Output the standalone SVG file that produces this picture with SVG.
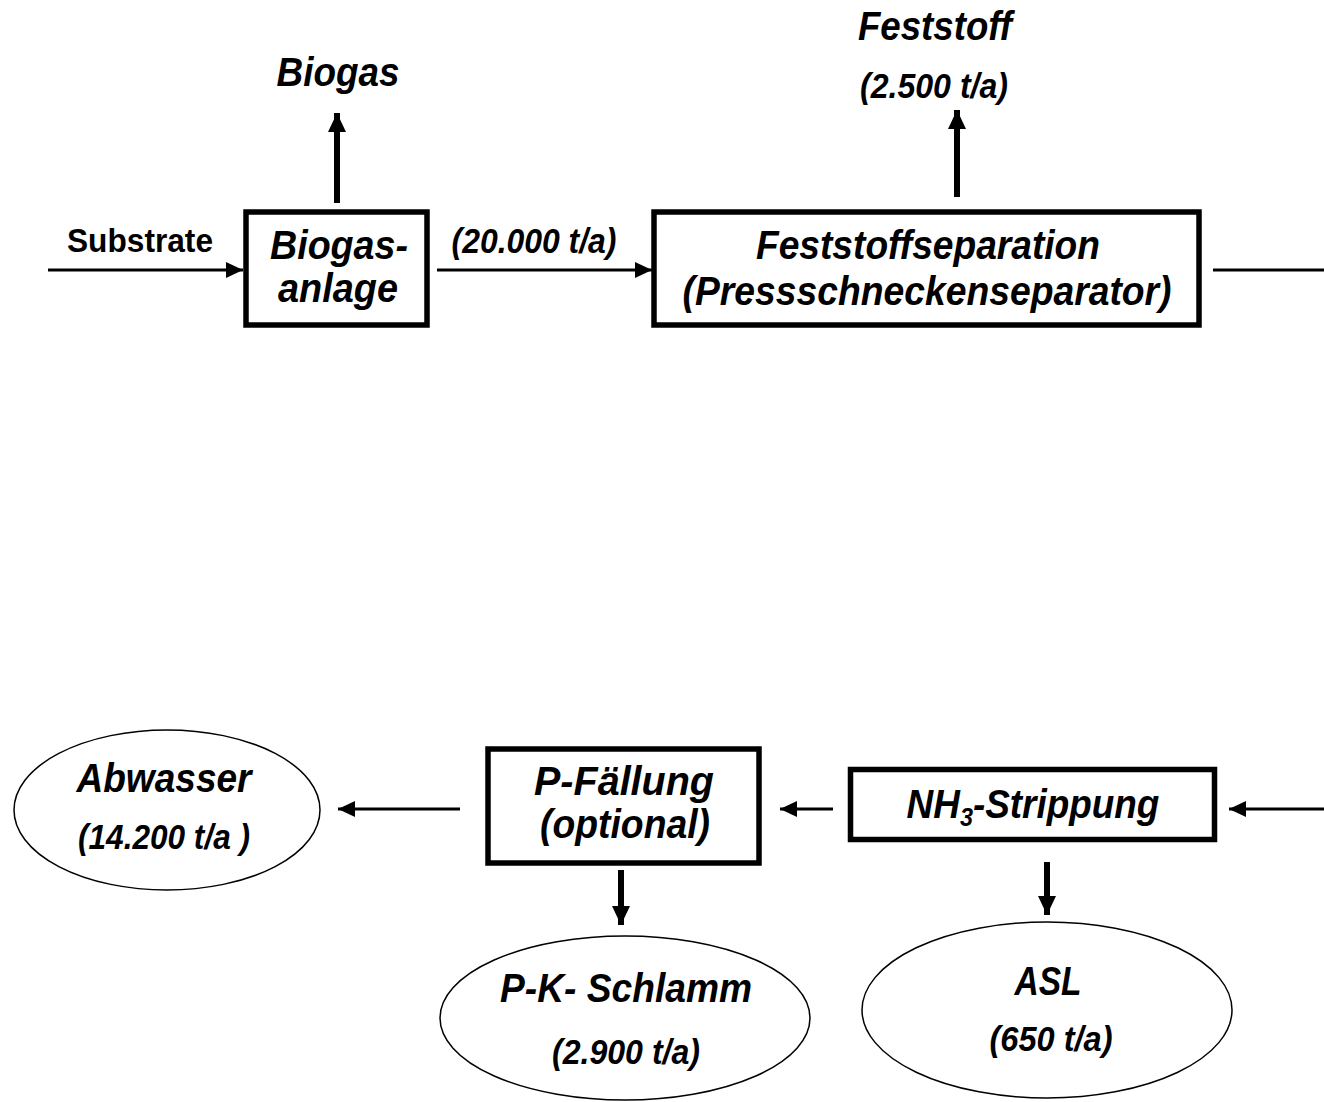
<svg xmlns="http://www.w3.org/2000/svg" width="1324" height="1102" viewBox="0 0 1324 1102">
<defs>
<style>
text{font-family:"Liberation Sans",Arial,sans-serif;font-weight:bold;font-style:italic;fill:#000;text-anchor:middle}
.big{font-size:41px}
.num{font-size:35px}
.sub{font-size:33px;font-style:normal}
.box{fill:#fff;stroke:#000;stroke-width:5.5}
.ell{fill:#fff;stroke:#000;stroke-width:1.5}
.thin{stroke:#000;stroke-width:3;fill:none}
.thick{stroke:#000;stroke-width:6;fill:none}
</style>
<marker id="ht" markerUnits="userSpaceOnUse" markerWidth="17" markerHeight="16" refX="17" refY="8" orient="auto"><path d="M0,0 L17,8 L0,16 z" fill="#000"/></marker>
<marker id="hT" markerUnits="userSpaceOnUse" markerWidth="19" markerHeight="18" refX="19" refY="9" orient="auto"><path d="M0,0 L19,9 L0,18 z" fill="#000"/></marker>
</defs>
<rect width="1324" height="1102" fill="#fff"/>
<g id="connectors">
<line class="thin" x1="48" y1="270" x2="243" y2="270" marker-end="url(#ht)"/>
<line class="thin" x1="437" y1="270" x2="652" y2="270" marker-end="url(#ht)"/>
<line class="thick" x1="337" y1="203" x2="337" y2="113" marker-end="url(#hT)"/>
<line class="thick" x1="957" y1="197" x2="957" y2="110" marker-end="url(#hT)"/>
<line class="thin" x1="1213" y1="270" x2="1324" y2="270"/>
<line class="thin" x1="1324" y1="809" x2="1229" y2="809" marker-end="url(#ht)"/>
<line class="thin" x1="833" y1="809" x2="780" y2="809" marker-end="url(#ht)"/>
<line class="thin" x1="460" y1="809" x2="338" y2="809" marker-end="url(#ht)"/>
<line class="thick" x1="621" y1="870" x2="621" y2="925" marker-end="url(#hT)"/>
<line class="thick" x1="1047" y1="862" x2="1047" y2="915" marker-end="url(#hT)"/>
<text class="sub" x="140" y="252" textLength="146" lengthAdjust="spacingAndGlyphs">Substrate</text>
<text class="num" x="534" y="253" textLength="165" lengthAdjust="spacingAndGlyphs">(20.000 t/a)</text>
</g>
<g id="biogas-out"><text class="big" x="338" y="86" textLength="123" lengthAdjust="spacingAndGlyphs">Biogas</text></g>
<g id="feststoff-out"><text class="big" x="935" y="40" textLength="154" lengthAdjust="spacingAndGlyphs">Feststoff</text><text class="num" x="934" y="98" textLength="148" lengthAdjust="spacingAndGlyphs">(2.500 t/a)</text></g>
<g id="biogasanlage">
<rect class="box" x="246" y="212" width="181" height="113"/>
<text class="big" x="339" y="259" textLength="138" lengthAdjust="spacingAndGlyphs">Biogas-</text>
<text class="big" x="338" y="302" textLength="120" lengthAdjust="spacingAndGlyphs">anlage</text>
</g>
<g id="feststoffseparation">
<rect class="box" x="654" y="212" width="545" height="113"/>
<text class="big" x="928" y="259" textLength="344" lengthAdjust="spacingAndGlyphs">Feststoffseparation</text>
<text class="big" x="927" y="305" textLength="489" lengthAdjust="spacingAndGlyphs">(Pressschneckenseparator)</text>
</g>
<g id="pfaellung">
<rect class="box" x="488" y="749" width="271" height="114"/>
<text class="big" x="624" y="795" textLength="180" lengthAdjust="spacingAndGlyphs">P-Fällung</text>
<text class="big" x="625" y="838" textLength="170" lengthAdjust="spacingAndGlyphs">(optional)</text>
</g>
<g id="nh3">
<rect class="box" x="850.5" y="769.5" width="364" height="70"/>
<text class="big" transform="translate(1033,818) scale(0.9,1)" x="0" y="0">NH<tspan font-size="26" dy="8">3</tspan><tspan dy="-8">-Strippung</tspan></text>
</g>
<g id="abwasser">
<ellipse class="ell" cx="167" cy="810" rx="153" ry="80"/>
<text class="big" x="164" y="792" textLength="175" lengthAdjust="spacingAndGlyphs">Abwasser</text>
<text class="num" x="164" y="849" textLength="172" lengthAdjust="spacingAndGlyphs">(14.200 t/a )</text>
</g>
<g id="pk-schlamm">
<ellipse class="ell" cx="625" cy="1018" rx="185" ry="82"/>
<text class="big" x="626" y="1002" textLength="252" lengthAdjust="spacingAndGlyphs">P-K- Schlamm</text>
<text class="num" x="626" y="1064" textLength="148" lengthAdjust="spacingAndGlyphs">(2.900 t/a)</text>
</g>
<g id="asl">
<ellipse class="ell" cx="1047" cy="1010" rx="185" ry="88"/>
<text class="big" x="1048" y="995" textLength="67" lengthAdjust="spacingAndGlyphs">ASL</text>
<text class="num" x="1051" y="1051" textLength="123" lengthAdjust="spacingAndGlyphs">(650 t/a)</text>
</g>
</svg>
